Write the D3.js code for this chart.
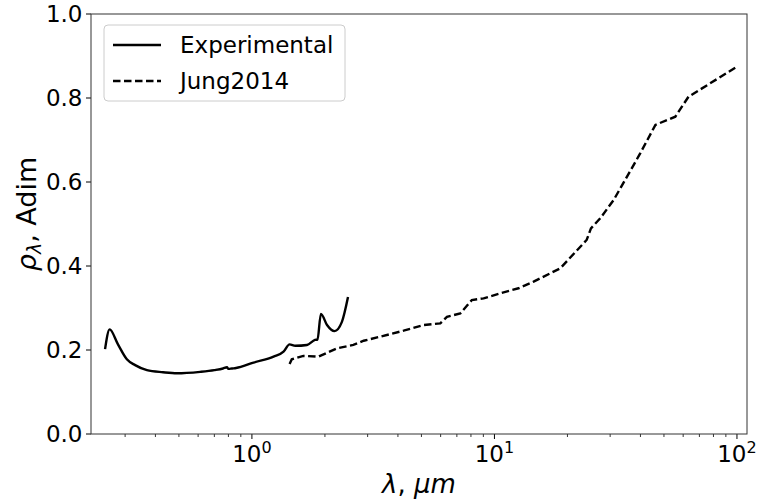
<!DOCTYPE html>
<html>
<head>
<meta charset="utf-8">
<script src="https://cdn.jsdelivr.net/npm/d3@7"></script>
<style>
  html, body { margin: 0; padding: 0; background: #fff; }
  svg { display: block; font-family: "DejaVu Sans", sans-serif; }
</style>
</head>
<body>
<svg id="chart" width="757" height="499"></svg>
<script>
// Measured spectral reflectance (wavelength in µm, reflectance)
const expWavelength = [0.248, 0.259, 0.28, 0.305, 0.33, 0.369, 0.43, 0.491, 0.612, 0.70, 0.76, 0.789, 0.80, 0.827, 0.86, 1.015, 1.228, 1.35, 1.43, 1.51, 1.686, 1.82, 1.864, 1.925, 2.04, 2.19, 2.35, 2.49];
const expReflectance = [0.202, 0.249, 0.214, 0.178, 0.164, 0.152, 0.147, 0.1445, 0.148, 0.152, 0.156, 0.159, 0.155, 0.156, 0.157, 0.170, 0.184, 0.196, 0.2135, 0.210, 0.212, 0.224, 0.225, 0.286, 0.2595, 0.245, 0.267, 0.326];

// Reference data set (Jung 2014)
const jungWavelength = [1.43, 1.46, 1.63, 1.88, 2.24, 2.62, 2.89, 3.38, 4.22, 5.10, 5.98, 6.37, 7.23, 8.07, 9.02, 10.57, 12.57, 14.5, 18.67, 24.0, 25.0, 27.3, 31.0, 34.6, 39.9, 46.1, 55.7, 63.1, 100];
const jungReflectance = [0.1667, 0.178, 0.186, 0.184, 0.204, 0.212, 0.222, 0.2317, 0.246, 0.2595, 0.2635, 0.279, 0.287, 0.319, 0.323, 0.335, 0.347, 0.3627, 0.3944, 0.462, 0.4897, 0.5135, 0.557, 0.605, 0.668, 0.736, 0.7555, 0.803, 0.8745];

const xMajorTicks = [1, 10, 100];
const xTickExponents = ["0", "1", "2"];
const yTicks = [0.0, 0.2, 0.4, 0.6, 0.8, 1.0];
const seriesNames = ["Experimental", "Jung2014"];

const svg = d3.select("#chart");
const mLeft = 91, mRight = 747, mTop = 14, mBottom = 434;
const tickFont = 23, labelFont = 26, legendFont = 23;

const x = d3.scaleLog().domain([0.217, 110]).range([mLeft, mRight]);
const y = d3.scaleLinear().domain([0, 1]).range([mBottom, mTop]);

// minor ticks on the log axis
const minorTicks = [];
[0.1, 1, 10].forEach(d => { for (let k = 2; k <= 9; k++) { const v = d * k; if (v > 0.217 && v < 110) minorTicks.push(v); } });

const g = svg.append("g");

// X minor ticks
g.selectAll("line.xminor").data(minorTicks).enter().append("line")
  .attr("x1", d => x(d)).attr("x2", d => x(d))
  .attr("y1", mBottom).attr("y2", mBottom + 3)
  .attr("stroke", "#000").attr("stroke-width", 0.8);

// X major ticks
g.selectAll("line.xmajor").data(xMajorTicks).enter().append("line")
  .attr("x1", d => x(d)).attr("x2", d => x(d))
  .attr("y1", mBottom).attr("y2", mBottom + 5)
  .attr("stroke", "#000").attr("stroke-width", 1);

const xl = g.selectAll("text.xlab").data(xMajorTicks).enter().append("text")
  .attr("x", d => x(d)).attr("y", mBottom + 28)
  .attr("text-anchor", "middle").attr("font-size", tickFont).attr("fill", "#000");
xl.append("tspan").text("10");
xl.append("tspan").text((d, i) => xTickExponents[i]).attr("font-size", 16).attr("dy", -9);

// Y ticks
g.selectAll("line.ytick").data(yTicks).enter().append("line")
  .attr("x1", mLeft - 5).attr("x2", mLeft)
  .attr("y1", d => y(d)).attr("y2", d => y(d))
  .attr("stroke", "#000").attr("stroke-width", 1);
g.selectAll("text.ylab").data(yTicks).enter().append("text")
  .attr("x", mLeft - 8.5).attr("y", d => y(d) + 8.3)
  .attr("text-anchor", "end").attr("font-size", tickFont).attr("fill", "#000")
  .text(d => d.toFixed(1));

// Curves
const line = d3.line().x(d => x(d[0])).y(d => y(d[1])).curve(d3.curveMonotoneX);
const expData = expWavelength.map((w, i) => [w, expReflectance[i]]);
const jungData = jungWavelength.map((w, i) => [w, jungReflectance[i]]);

const plot = svg.append("g");
plot.append("path").datum(expData).attr("d", line)
  .attr("fill", "none").attr("stroke", "#000").attr("stroke-width", 2.4)
  .attr("stroke-linejoin", "round");
plot.append("path").datum(jungData).attr("d", d3.line().x(d => x(d[0])).y(d => y(d[1])))
  .attr("fill", "none").attr("stroke", "#000").attr("stroke-width", 2.4)
  .attr("stroke-dasharray", "7.5,3.5");

// Frame
svg.append("rect").attr("x", mLeft).attr("y", mTop)
  .attr("width", mRight - mLeft).attr("height", mBottom - mTop)
  .attr("fill", "none").attr("stroke", "#333").attr("stroke-width", 1);

// Axis titles
const xt = svg.append("text").attr("x", (mLeft + mRight) / 2).attr("y", 493)
  .attr("text-anchor", "middle").attr("font-size", labelFont).attr("fill", "#000");
xt.append("tspan").attr("font-style", "italic").text("λ");
xt.append("tspan").text(", ");
xt.append("tspan").attr("font-style", "italic").text("μm");

const yt = svg.append("text")
  .attr("transform", `translate(36,214) rotate(-90)`)
  .attr("text-anchor", "middle").attr("font-size", 27).attr("fill", "#000");
yt.append("tspan").attr("font-style", "italic").text("ρ");
yt.append("tspan").attr("font-style", "italic").attr("font-size", 19).attr("dy", 5).text("λ");
yt.append("tspan").attr("dy", -5).text(", Adim");

// Legend
const lg = svg.append("g");
lg.append("rect").attr("x", 104).attr("y", 25).attr("width", 241).attr("height", 76)
  .attr("rx", 4).attr("fill", "#fff").attr("fill-opacity", 0.8)
  .attr("stroke", "#ccc").attr("stroke-width", 1);
seriesNames.forEach((name, i) => {
  const yy = 45 + i * 36;
  lg.append("line").attr("x1", 113).attr("x2", 161).attr("y1", yy).attr("y2", yy)
    .attr("stroke", "#000").attr("stroke-width", 2.4)
    .attr("stroke-dasharray", i === 1 ? "7.5,3.5" : null);
  lg.append("text").attr("x", 180).attr("y", yy + 8).attr("font-size", legendFont)
    .attr("fill", "#000").text(name);
});
</script>
</body>
</html>
